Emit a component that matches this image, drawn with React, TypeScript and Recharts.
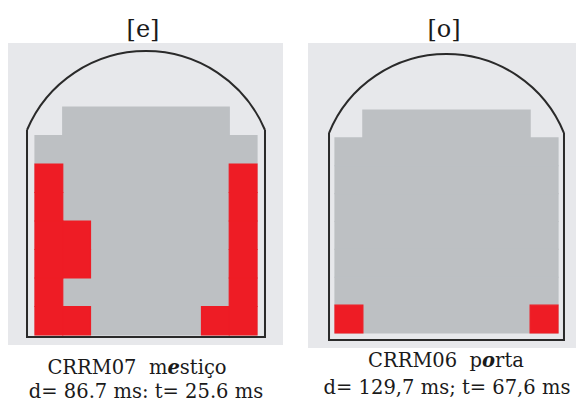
import React from 'react';
import { ComposedChart, XAxis, YAxis, ReferenceArea } from 'recharts';

// electropalatogram: 8 rows, row 0 holds 6 electrodes, the rest 8
const ROW_SPANS: [number, number][] = [
  [1, 7], [0, 8], [0, 8], [0, 8], [0, 8], [0, 8], [0, 8], [0, 8],
];

// contacted electrodes [row, col]
const E_CONTACTS: [number, number][] = [
  [2, 0], [3, 0], [4, 0], [5, 0], [6, 0], [7, 0],
  [4, 1], [5, 1], [7, 1],
  [2, 7], [3, 7], [4, 7], [5, 7], [6, 7], [7, 7],
  [7, 6],
];
const O_CONTACTS: [number, number][] = [[7, 0], [7, 7]];

const TITLES = ['[e]', '[o]'];
const SPEAKERS = ['CRRM07', 'CRRM06'];
const WORDS: [string, string, string][] = [['m', 'e', 'stiço'], ['p', 'o', 'rta']];
const TIMES = ['d= 86.7 ms: t= 25.6 ms', 'd= 129,7 ms; t= 67,6 ms'];

const BG = '#e7e8eb';
const GRAY = '#bdc0c3';
const RED = '#ee1c25';
const LINE = '#2a2a2a';
const FONT = '"DejaVu Serif", serif';

interface PanelCfg {
  left: number;
  top: number;
  width: number;
  height: number;
  xDomain: [number, number];
  yDomain: [number, number];
  outX: [number, number];
  arcTop: number;
  sideTop: number;
  bottom: number;
}

const PANELS: PanelCfg[] = [
  {
    left: 8, top: 43, width: 275, height: 302,
    xDomain: [-0.973, 8.937], yDomain: [-2.246, 8.351],
    outX: [-0.288, 8.288], arcTop: -1.965, sideTop: 0.807, bottom: 8.07,
  },
  {
    left: 308, top: 43, width: 268, height: 305,
    xDomain: [-0.969, 8.646], yDomain: [-2.404, 8.538],
    outX: [-0.215, 8.215], arcTop: -2.01, sideTop: 0.825, bottom: 8.25,
  },
];

const arcShape = (p: any) => {
  const { x, y, width: w, height: h } = p;
  const r = (w * w / 4 + h * h) / (2 * h);
  return (
    <path
      d={`M${x},${y + h} A${r},${r} 0 0 1 ${x + w},${y + h}`}
      fill="none"
      stroke={LINE}
      strokeWidth={2}
    />
  );
};

const sideShape = (p: any) => {
  const { x, y, width: w, height: h } = p;
  return (
    <path
      d={`M${x},${y} L${x},${y + h} L${x + w},${y + h} L${x + w},${y}`}
      fill="none"
      stroke={LINE}
      strokeWidth={2}
    />
  );
};

function Palate({ cfg, contacts }: { cfg: PanelCfg; contacts: [number, number][] }) {
  return (
    <div style={{ position: 'absolute', left: cfg.left, top: cfg.top, background: BG }}>
      <ComposedChart
        width={cfg.width}
        height={cfg.height}
        data={[]}
        margin={{ top: 0, right: 0, bottom: 0, left: 0 }}
      >
        <XAxis type="number" dataKey="x" domain={cfg.xDomain} hide allowDataOverflow />
        <YAxis type="number" dataKey="y" domain={cfg.yDomain} reversed hide allowDataOverflow />
        {ROW_SPANS.map(([c1, c2], r) => (
          <ReferenceArea
            key={`g${r}`}
            x1={c1}
            x2={c2}
            y1={r}
            y2={r + 1}
            fill={GRAY}
            fillOpacity={1}
            stroke={GRAY}
            strokeWidth={1.2}
            ifOverflow="visible"
          />
        ))}
        {contacts.map(([r, c]) => (
          <ReferenceArea
            key={`c${r}-${c}`}
            x1={c}
            x2={c + 1}
            y1={r}
            y2={r + 1}
            fill={RED}
            fillOpacity={1}
            stroke={RED}
            strokeWidth={1.2}
            ifOverflow="visible"
          />
        ))}
        <ReferenceArea
          x1={cfg.outX[0]}
          x2={cfg.outX[1]}
          y1={cfg.arcTop}
          y2={cfg.sideTop}
          shape={arcShape}
          ifOverflow="visible"
        />
        <ReferenceArea
          x1={cfg.outX[0]}
          x2={cfg.outX[1]}
          y1={cfg.sideTop}
          y2={cfg.bottom}
          shape={sideShape}
          ifOverflow="visible"
        />
      </ComposedChart>
    </div>
  );
}

const textStyle = (cx: number, top: number, size: number): React.CSSProperties => ({
  position: 'absolute',
  left: cx - 200,
  width: 400,
  top,
  textAlign: 'center',
  fontFamily: FONT,
  fontSize: size,
  lineHeight: `${size}px`,
  color: '#1a1a1a',
  whiteSpace: 'nowrap',
});

const TITLE_X = [143, 444];
const LINE1 = [{ x: 137, top: 358 }, { x: 446, top: 351 }];
const LINE2 = [{ x: 146, top: 382 }, { x: 447, top: 378 }];

export default function App() {
  return (
    <div
      style={{
        position: 'absolute',
        left: 0,
        top: 0,
        width: 580,
        height: 402,
        overflow: 'hidden',
        background: '#fff',
      }}
    >
      <Palate cfg={PANELS[0]} contacts={E_CONTACTS} />
      <Palate cfg={PANELS[1]} contacts={O_CONTACTS} />
      {TITLES.map((t, i) => (
        <div key={t} style={textStyle(TITLE_X[i], 17, 24)}>{t}</div>
      ))}
      {SPEAKERS.map((s, i) => (
        <div key={s} style={textStyle(LINE1[i].x, LINE1[i].top, 19.5)}>
          {s}&nbsp; {WORDS[i][0]}
          <b><i>{WORDS[i][1]}</i></b>
          {WORDS[i][2]}
        </div>
      ))}
      {TIMES.map((t, i) => (
        <div key={t} style={textStyle(LINE2[i].x, LINE2[i].top, 19.5)}>{t}</div>
      ))}
    </div>
  );
}
